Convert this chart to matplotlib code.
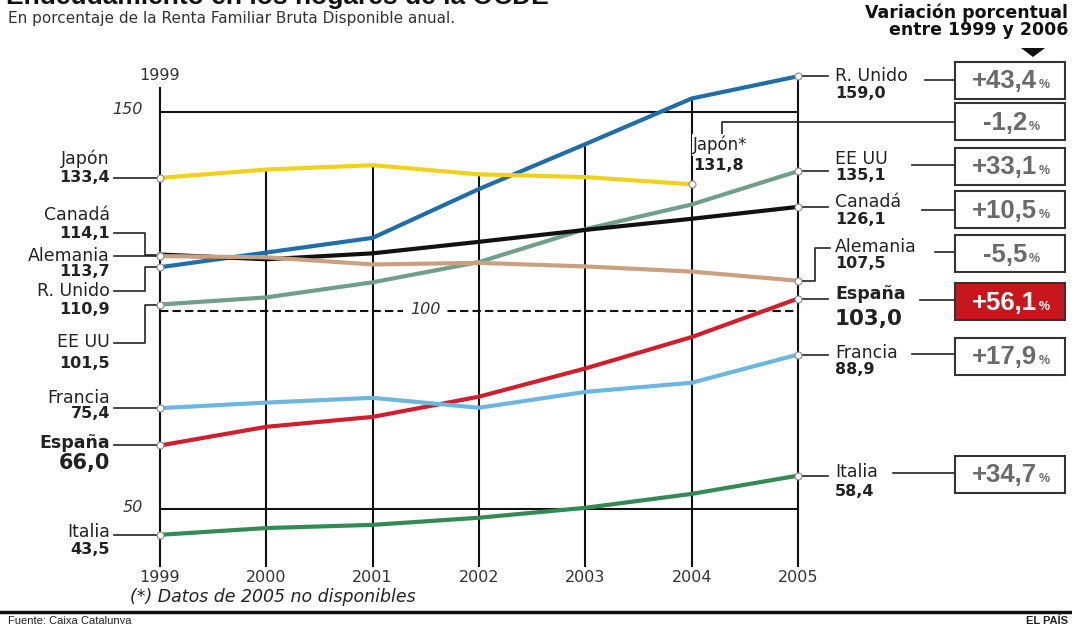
import matplotlib
matplotlib.use("Agg")
import matplotlib.pyplot as plt
import matplotlib.transforms as mtransforms
from matplotlib.patches import Rectangle, Polygon
from matplotlib.offsetbox import TextArea, HPacker, AnnotationBbox

plt.rcParams['font.family'] = ['DejaVu Sans']

# data (% of gross disposable household income)
years = [1999, 2000, 2001, 2002, 2003, 2004, 2005]
r_unido = [110.9, 114.6, 118.3, 130.6, 141.9, 153.4, 159.0]
japon = [133.4, 135.5, 136.6, 134.3, 133.6, 131.8]   # no 2005 data
ee_uu = [101.5, 103.3, 107.1, 112.2, 120.5, 126.7, 135.1]
canada = [114.1, 112.9, 114.4, 117.3, 120.3, 123.1, 126.1]
alemania = [113.7, 113.4, 111.6, 112.0, 111.1, 109.8, 107.5]
espana = [66.0, 70.7, 73.2, 78.3, 85.4, 93.3, 103.0]
francia = [75.4, 76.8, 78.0, 75.5, 79.5, 81.8, 88.9]
italia = [43.5, 45.2, 46.0, 47.8, 50.3, 53.8, 58.4]

variacion = ["+43,4", "-1,2", "+33,1", "+10,5", "-5,5", "+56,1", "+17,9", "+34,7"]

W, H = 1072, 624
X0, XS = 160, 106.33      # pixel of 1999, pixels per year
Y0, K = 310.5, 3.97       # pixel row of 100, pixels per unit
ARIAL = ['Liberation Sans', 'DejaVu Sans']
INK = "#222222"

def row(v):
    return Y0 - (v - 100) * K

def fmt(v):
    return f"{v:.1f}".replace(".", ",")

fig = plt.figure(figsize=(W / 100, H / 100), dpi=100)
ax = fig.add_axes([0, 0, 1, 1])
ax.set_xlim(1999 - X0 / XS, 1999 + (W - X0) / XS)
ax.set_ylim(100 - (H - Y0) / K, 100 + Y0 / K)
ax.axis('off')

# pixel transform (y grows downward) for annotations
px = mtransforms.Affine2D().scale(1 / W, -1 / H).translate(0, 1) + fig.transFigure

series = [
    ("R. Unido", r_unido, "#1f6fa6"),
    ("Japón", japon, "#f0d21c"),
    ("EE UU", ee_uu, "#6f9e8c"),
    ("Canadá", canada, "#111111"),
    ("Alemania", alemania, "#c9a080"),
    ("España", espana, "#cf1f2c"),
    ("Francia", francia, "#6db6de"),
    ("Italia", italia, "#338a55"),
]

# vertical year lines
bottom = 100 - (566 - Y0) / K
for i, yr in enumerate(years):
    top = max(s[i] for _, s, _ in series if i < len(s))
    if yr == 1999:
        top = 100 + (Y0 - 88) / K
    ax.plot([yr, yr], [bottom, top], color="#111111", lw=1.5, zorder=1)

# reference levels
ax.plot([1999, 2005], [150, 150], color="#111111", lw=1.5, zorder=1)
ax.plot([1999, 2005], [50, 50], color="#111111", lw=1.5, zorder=1)
ax.plot([1999, 2005], [100, 100], color="#111111", lw=1.5, ls=(0, (4, 2)), zorder=1)

for name, vals, col in series:
    ax.plot(years[:len(vals)], vals, color=col, lw=3, zorder=3,
            solid_capstyle='round', marker='o', markevery=[0, len(vals) - 1],
            ms=5, mfc='white', mec='#888888', mew=0.8)

# level labels
ax.text(127, 110, "150", transform=px, fontsize=11.5, style='italic', color="#333333",
        ha='center', va='center')
ax.text(133, 507, "50", transform=px, fontsize=11.5, style='italic', color="#333333",
        ha='center', va='center')
ax.text(425, 310, "100", transform=px, fontsize=11.5, style='italic', color="#333333",
        ha='center', va='center', zorder=4,
        bbox=dict(fc='white', ec='none', pad=5))
ax.text(X0, 76, "1999", transform=px, fontsize=11.5, color="#333333", ha='center', va='center')

for yr in years:
    ax.text(X0 + (yr - 1999) * XS, 578, str(yr), transform=px, fontsize=11.5,
            color="#333333", ha='center', va='center')

def conn(xs, ys):
    ax.plot(xs, ys, transform=px, color=INK, lw=1.2, zorder=2)

# left labels: name row, value row, connector elbow row (None = straight)
left = {
    "Japón": (159, 178, None),
    "Canadá": (215, 233, 233),
    "Alemania": (256, 272, None),
    "R. Unido": (291, 310, 291),
    "EE UU": (342, 363, 343),
    "Francia": (398, 413, None),
    "España": (443, 463, None),
    "Italia": (532, 550, None),
}
for name, vals, col in series:
    ny, vy, ey = left[name]
    big = name == "España"
    ax.text(110, ny, name, transform=px, fontsize=12.5, ha='right', va='center',
            color=INK, fontweight='bold' if big else 'normal')
    ax.text(110, vy, fmt(vals[0]), transform=px, fontsize=15 if big else 11.5,
            ha='right', va='center', fontweight='bold', color=INK)
    r = row(vals[0])
    if ey is None:
        conn([114, 158], [r, r])
    else:
        conn([114, 145, 145, 158], [ey, ey, r, r])

# right labels: name row, value row, box-connector row, start x of that connector
right = {
    "R. Unido": (76, 93, 80, 925),
    "EE UU": (159, 176, 165, 912),
    "Canadá": (202, 219, 210, 922),
    "Alemania": (247, 264, 252, 935),
    "España": (294, 319, 300, 920),
    "Francia": (353, 370, 354, 912),
    "Italia": (472, 491, 473, 893),
}
for name, vals, col in series:
    if name == "Japón":
        continue
    ny, vy, by, bx = right[name]
    big = name == "España"
    ax.text(835, ny, name, transform=px, fontsize=12.5, ha='left', va='center',
            color=INK, fontweight='bold' if big else 'normal')
    ax.text(835, vy, fmt(vals[-1]), transform=px, fontsize=15.5 if big else 11.5,
            ha='left', va='center', fontweight='bold', color=INK)
    r = row(vals[-1])
    if name == "Alemania":
        conn([800, 815, 815, 830], [r, r, ny + 1, ny + 1])
    else:
        conn([800, 828], [r, r])
    conn([bx, 955], [by, by])

# Japan ends in 2004
ax.text(693, 145, "Japón*", transform=px, fontsize=12, ha='left', va='center',
        color=INK, zorder=4, bbox=dict(fc='white', ec='none', pad=1))
ax.text(693, 165, fmt(japon[-1]), transform=px, fontsize=11.5, ha='left', va='center',
        fontweight='bold', color=INK)
conn([722, 722, 955], [135, 122, 122])

# variation boxes
box_rows = [80.5, 121.5, 166.5, 209.5, 253.5, 301.5, 356, 474]
for txt, cy in zip(variacion, box_rows):
    red = txt == "+56,1"
    ax.add_patch(Rectangle((955, cy - 18.5), 110, 37, transform=px, zorder=3,
                           fc="#c8161d" if red else "white", ec="#333333", lw=1.5))
    tc = "white" if red else "#6a6a6a"
    pack = HPacker(children=[
        TextArea(txt, textprops=dict(fontsize=18.5, fontweight='bold', color=tc,
                                     family=ARIAL)),
        TextArea("%", textprops=dict(fontsize=9, fontweight='bold', color=tc,
                                     family=ARIAL))],
        align='baseline', pad=0, sep=1)
    ax.add_artist(AnnotationBbox(pack, (1011, cy + 1), xycoords=px, frameon=False,
                                 box_alignment=(0.5, 0.5), zorder=4))

# header and titles
ax.text(1068, 13, "Variación porcentual", transform=px, fontsize=12.5,
        fontweight='bold', ha='right', va='center', color="#111111")
ax.text(1068, 30, "entre 1999 y 2006", transform=px, fontsize=12.5,
        fontweight='bold', ha='right', va='center', color="#111111")
ax.add_patch(Polygon([(1021, 48), (1045, 48), (1033, 57)], closed=True,
                     transform=px, fc="#111111", ec='none'))

ax.text(6, 4, "Endeudamiento en los hogares de la OCDE", transform=px, family=ARIAL,
        fontsize=19, fontweight='bold', ha='left', va='baseline', color="#111111")
ax.text(8, 18, "En porcentaje de la Renta Familiar Bruta Disponible anual.",
        transform=px, fontsize=11, ha='left', va='center', color="#333333")

ax.text(130, 597, "(*) Datos de 2005 no disponibles", transform=px, fontsize=12.5,
        style='italic', ha='left', va='center', color=INK)
ax.plot([0, W], [612, 612], transform=px, color="#111111", lw=2.5)
ax.text(8, 621, "Fuente: Caixa Catalunya", transform=px, fontsize=8, family=ARIAL,
        ha='left', va='center', color=INK)
ax.text(1068, 621, "EL PAÍS", transform=px, fontsize=8, fontweight='bold', family=ARIAL,
        ha='right', va='center', color=INK)

fig.savefig("out.png", dpi=100)
